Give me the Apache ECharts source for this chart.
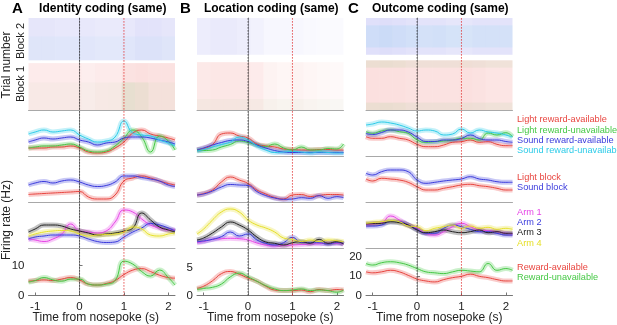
<!DOCTYPE html>
<html><head><meta charset="utf-8">
<script src="https://cdn.jsdelivr.net/npm/echarts@6/dist/echarts.min.js"></script>
<style>html,body{margin:0;padding:0;background:#fff}#c{width:617px;height:325px}</style>
</head><body><div id="c"></div>
<script>
// ---------- shared axes ----------
const time = [-1.15,-1,-0.8,-0.6,-0.4,-0.2,0,0.2,0.4,0.6,0.8,1,1.2,1.4,1.6,1.8,2,2.15];
const xTicks = [-1,0,1,2];
const eventTimes = [0, 1];           // nosepoke (black), outcome (red)
const rasterBinStarts = [-1.15,-0.85,-0.55,-0.25,0.05,0.35,0.65,0.95,1.25,1.55,1.85];
const rasterBinWidth = 0.3;

// ---------- Panel A: Identity coding ----------
const A1_lightAvail   = [8,8,8,9,9,10,8,4,3,4,8,14,23,26,22,20,18,16];
const A1_lightUnavail = [8,9,10,10,11,12,9,5,4,5,10,18,26,19,4,20,15,6];
const A1_soundAvail   = [14,16,18,17,18,19,16,14,11,13,14,18,19,19,18,16,14,12];
const A1_soundUnavail = [22,24,26,24,25,26,21,17,14,15,19,35,23,21,20,16,13,10];
const A2_light = [7.5,8,8.5,9,9.5,10,10.5,5,3,3,7,21,24,26,24,21,18.5,17];
const A2_sound = [17,19,20.5,19,21,22,20,17,15.5,16.5,20,26,26,24.5,23,21,17,15.5];
const A3_arm1 = [9,8,6.5,9,14,24,17,16,15,17,26,38,36,29,23,20,18,18];
const A3_arm2 = [9,11,12,13,13,13,12,9,6.5,5.5,6,11,16,20,24.5,23,20,17];
const A3_arm3 = [16,19,23,23,22,19,17,15,13,14,15,17,20,35,28,21,18,16];
const A3_arm4 = [12,14,16,17,17.5,17,14,12,13,13.5,14,16,21,19,13,12,14,15];
const A4_avail   = [4.8,5.0,5.2,5.0,5.5,6.0,5.2,3.8,3.5,4.0,5.0,7.0,8.5,9.0,8.0,6.8,6.0,5.8];
const A4_unavail = [4.5,5.0,6.0,5.2,4.8,5.5,5.5,3.8,3.5,3.8,5.0,11.5,10.5,8.0,6.5,8.5,6.0,3.5];
const A_rateTicks = [0,10];

// ---------- Panel B: Location coding ----------
const B1_lightAvail   = [6,7.5,11.5,22,23,20,18,12,10,9,7,6.5,6,6,6.5,6.5,6,6];
const B1_lightUnavail = [6,5.5,6,9,11.5,15,13.5,11,9.5,12,8,6,9,6,6,7.5,7,12];
const B1_soundAvail   = [6,8,11,13.5,15.5,16,14.5,11,8,5.5,4,3.5,3.5,3.5,3.5,3.5,3.5,3.5];
const B1_soundUnavail = [5,6.5,9,11.5,14,19,16,10,6,3.5,4,4.5,4,3,4,3.5,3,3];
const B2_light = [7,8.5,12,20,25,22,18.5,12,8,4.5,3,7,7.5,5.5,6.5,7.5,7.5,7];
const B2_sound = [7,8,11,15,17.5,17,16.5,10.5,6.5,4,2.7,3,4.3,3.7,6.3,3.7,5.3,4.3];
const B3_arm1 = [5.3,6.5,8.7,9.3,9.7,9.3,8,5,3,2,2.5,3,3.5,4,4.3,4.7,4.7,4];
const B3_arm2 = [6.3,7,8.7,11.3,16,12,14,8,4.7,3,5.3,10.7,5.3,5.3,5.3,4,5.3,4.7];
const B3_arm3 = [8,10,15,21,26,23,18,11,6,4.7,3,5.3,6.3,4.7,8.7,4.7,6.3,4];
const B3_arm4 = [14,19,28,36,39,36,28,23,20,16,10,8.5,6.5,8,6.5,8,7.3,6.3];
const B4_avail   = [1.3,1.7,2.7,4.0,4.4,3.9,3.2,2.6,1.7,1.0,0.9,0.9,1.0,0.7,1.1,0.9,1.1,1.0];
const B4_unavail = [1.1,1.3,1.5,2.1,3.4,4.1,3.4,2.6,1.8,1.2,0.9,1.0,1.2,0.9,1.0,0.9,0.6,1.0];
const B_rateTicks = [0,5];

// ---------- Panel C: Outcome coding ----------
const C1_lightAvail   = [19.3,17.7,17.7,19.3,17.7,16,11.7,9.3,9.3,11,13.7,14.3,16,13.7,14.3,11.7,10.3,10.3];
const C1_lightUnavail = [24.3,22.7,25,26,24.3,22.7,16,13.7,14.3,15,16,17.7,17.7,16,23,21,23.3,19.3];
const C1_soundAvail   = [22.5,21.5,23.5,26,26,24,19,14.5,14.5,16,16,17.5,21,17.5,16,16,14.5,13.7];
const C1_soundUnavail = [31,32,34,33,31,28,25,26,25,21,22,27,23,26,24,23,21,19];
const C2_light = [23,21,23.7,23,22,19.7,15.3,12,12,13.7,15.3,17,17.7,16.3,15.3,13.7,12,12];
const C2_sound = [28.7,27,30.3,32,32,30.3,22,18.7,19.7,21,22,23,25.3,23,22,20.3,19.7,19.7];
const C3_arm1 = [23,24,25,32,28,23,19.7,14.7,13,16.3,21.3,24.7,21.3,18,17.3,16.3,14.7,14];
const C3_arm2 = [22,22,23,26.3,26.3,23,18.7,14.7,14.7,19.7,23,21.3,18.7,16.3,16.3,14.7,13,13];
const C3_arm3 = [24,24.3,24.7,26.3,25.3,23,18,15.3,16.3,18,16.3,15.3,16.3,18,15.3,16.3,14.7,14.7];
const C3_arm4 = [24.7,25.5,26.3,27.3,26.3,22,21.3,17.3,19.7,21.3,23,19.7,22,19.7,20.7,18.7,19.7,18.7];
const C4_avail   = [12.2,11.7,12.2,13,12.2,10.4,8.5,7.5,7,8.2,9.2,9.9,11,9.9,9.2,8.2,7.5,7.5];
const C4_unavail = [16.5,15.7,16.9,17.4,16.9,15.7,13.9,12.2,11.7,11.3,12.2,13,12.6,12.2,16.5,13,13.9,13];
const C_rateTicks = [0,10,20];

// ---------- raster: spike density per time bin, per trial band ----------
const A_raster = [
  {trials:[54,100], c:'blue',  dens:[0.5,0.5,0.45,0.45,0.45,0.4,0.4,0.45,0.55,0.55,0.5]},
  {trials:[54,80],  c:'cyan',  dens:[0.15,0.15,0.15,0.15,0.12,0.12,0.12,0.15,0.15,0.15,0.15]},
  {trials:[0,51],   c:'red',   dens:[0.4,0.4,0.4,0.4,0.35,0.4,0.4,0.6,0.65,0.6,0.6]},
  {trials:[0,30],   c:'green', dens:[0.1,0.1,0.1,0.1,0.1,0.12,0.15,0.4,0.3,0.15,0.15]}
];
const B_raster = [
  {trials:[60,100], c:'blue',  dens:[0.35,0.4,0.4,0.35,0.25,0.15,0.15,0.15,0.12,0.1,0.1]},
  {trials:[0,52],   c:'red',   dens:[0.45,0.5,0.5,0.5,0.4,0.25,0.2,0.25,0.2,0.15,0.12]},
  {trials:[0,12],   c:'green', dens:[0.15,0.15,0.15,0.15,0.15,0.12,0.12,0.12,0.1,0.1,0.1]}
];
const C_raster = [
  {trials:[60,100], c:'blue',  dens:[0.6,0.65,0.6,0.55,0.55,0.55,0.5,0.5,0.55,0.55,0.55]},
  {trials:[68,92],  c:'cyan',  dens:[0.35,0.4,0.35,0.35,0.3,0.35,0.35,0.3,0.3,0.3,0.3]},
  {trials:[0,54],   c:'red',   dens:[0.65,0.65,0.65,0.6,0.6,0.6,0.6,0.65,0.6,0.55,0.55]},
  {trials:[0,8],    c:'green', dens:[0.3,0.35,0.3,0.25,0.25,0.25,0.25,0.25,0.25,0.25,0.25]},
  {trials:[46,54],  c:'green', dens:[0.3,0.35,0.3,0.25,0.25,0.25,0.25,0.25,0.25,0.25,0.25]}
];

// ---------- colours / labels ----------
const COL = {red:'#e8453f', green:'#45c845', blue:'#3b3bdc', cyan:'#2ccbe8', mag:'#e645e6', yel:'#e6e02a', blk:'#222222'};
const legendRows = [
  [['Light reward-available','red'],['Light reward-unavailable','green'],['Sound reward-available','blue'],['Sound reward-unavailable','cyan']],
  [['Light block','red'],['Sound block','blue']],
  [['Arm 1','mag'],['Arm 2','blue'],['Arm 3','blk'],['Arm 4','yel']],
  [['Reward-available','red'],['Reward-unavailable','green']]
];

const panels = [
  {left:28.5, title:'Identity coding (same)', letter:'A', letterX:12,
   rows:[[A1_lightAvail,A1_lightUnavail,A1_soundAvail,A1_soundUnavail],[A2_light,A2_sound],[A3_arm1,A3_arm2,A3_arm3,A3_arm4],[A4_avail,A4_unavail]],
   rateMax:15.9, rateTicks:A_rateTicks, raster:A_raster},
  {left:197, title:'Location coding (same)', letter:'B', letterX:180,
   rows:[[B1_lightAvail,B1_lightUnavail,B1_soundAvail,B1_soundUnavail],[B2_light,B2_sound],[B3_arm1,B3_arm2,B3_arm3,B3_arm4],[B4_avail,B4_unavail]],
   rateMax:8.7, rateTicks:B_rateTicks, raster:B_raster},
  {left:366, title:'Outcome coding (same)', letter:'C', letterX:348,
   rows:[[C1_lightAvail,C1_lightUnavail,C1_soundAvail,C1_soundUnavail],[C2_light,C2_sound],[C3_arm1,C3_arm2,C3_arm3,C3_arm4],[C4_avail,C4_unavail]],
   rateMax:24.5, rateTicks:C_rateTicks, raster:C_raster}
];

const W = 146.5, RAST_TOP = 18, RAST_H = 92, ROW_H = 46, BOTTOM = 295.5;
const XMIN = -1.15, XMAX = 2.15;
const FONT = '"Liberation Sans", Arial, Helvetica, sans-serif';
const grids = [], xAxes = [], yAxes = [], series = [], graphics = [];

function addGrid(left, top, height, xCfg, yCfg){
  const i = grids.length;
  grids.push({left:left, top:top, width:W, height:height});
  xAxes.push(Object.assign({type:'value', gridIndex:i, min:XMIN, max:XMAX, splitLine:{show:false},
    axisLabel:{show:false}, axisTick:{show:false}, axisLine:{show:false}}, xCfg||{}));
  yAxes.push(Object.assign({type:'value', gridIndex:i, splitLine:{show:false},
    axisLabel:{show:false}, axisTick:{show:false}, axisLine:{show:false}}, yCfg||{}));
  return i;
}
const sepLine = {show:true, onZero:false, lineStyle:{color:'#a8a8a8', width:1}};

panels.forEach(function(p){
  // raster
  const gi = addGrid(p.left, RAST_TOP, RAST_H, {axisLine:sepLine}, {min:0, max:100});
  p.raster.forEach(function(band){
    const data = band.dens.map(function(d, k){
      return [rasterBinStarts[k], rasterBinStarts[k] + rasterBinWidth, band.trials[0], band.trials[1], d];
    });
    const color = COL[band.c];
    series.push({type:'custom', xAxisIndex:gi, yAxisIndex:gi, z:1, silent:true, data:data,
      encode:{x:[0,1], y:[2,3]},
      renderItem:function(params, api){
        const a = api.coord([api.value(0), api.value(3)]);
        const b = api.coord([api.value(1), api.value(2)]);
        return {type:'rect', shape:{x:a[0], y:a[1], width:b[0]-a[0], height:b[1]-a[1]},
          style:{fill:color, opacity:api.value(4)*0.26}};
      }});
  });
  // four line rows
  p.rows.forEach(function(row, r){
    const isLast = r === 3;
    const top = 110 + r*ROW_H;
    const h = isLast ? (BOTTOM - top) : ROW_H;
    const xCfg = isLast ? {axisLine:{show:true, onZero:false, lineStyle:{color:'#777'}},
        axisTick:{show:true, inside:true, length:3, customValues:xTicks, lineStyle:{color:'#777'}},
        axisLabel:{show:true, interval:0, customValues:xTicks, fontSize:11.5, color:'#222', fontFamily:FONT, margin:5}}
      : {axisLine:sepLine};
    const yCfg = isLast ? {min:0, max:p.rateMax,
        axisTick:{show:true, inside:true, length:3, customValues:p.rateTicks, lineStyle:{color:'#777'}}}
      : {min:0, max:46};
    const gi2 = addGrid(p.left, top, h, xCfg, yCfg);
    if (isLast) p.rateGrid = gi2;
    row.forEach(function(vals, s){
      const color = COL[legendRows[r][s][1]];
      const data = time.map(function(t, k){ return [t, vals[k]]; });
      series.push({type:'line', xAxisIndex:gi2, yAxisIndex:gi2, data:data, smooth:0.5, showSymbol:false, silent:true, z:2,
        lineStyle:{color:color, width:5, opacity:0.28}});
      series.push({type:'line', xAxisIndex:gi2, yAxisIndex:gi2, data:data, smooth:0.5, showSymbol:false, silent:true, z:3,
        lineStyle:{color:color, width:1}});
    });
  });
  // full-height overlay: left axis + event lines
  const go = addGrid(p.left, RAST_TOP, BOTTOM - RAST_TOP, {},
    {min:0, max:1, axisLine:{show:true, lineStyle:{color:'#a0a0a0', width:1}}});
  eventTimes.forEach(function(t, k){
    series.push({type:'line', xAxisIndex:go, yAxisIndex:go, data:[[t,0],[t,1]], showSymbol:false, silent:true, z:4,
      lineStyle:{color: k === 0 ? '#333333' : '#e02828', width:1, type:[1.2,1.8]}});
  });
  // texts
  graphics.push({type:'text', left:p.letterX, top:1, style:{text:p.letter, font:'bold 15px '+FONT, fill:'#000'}});
  graphics.push({type:'text', x:p.left + W/2 + 1, y:9, style:{text:p.title, font:'bold 12px '+FONT, fill:'#000', align:'center', verticalAlign:'middle'}});
  graphics.push({type:'text', x:p.left + W/2 - (p.letter==='A'?6:0), y:318, style:{text:'Time from nosepoke (s)', font:'12px '+FONT, fill:'#222', align:'center', verticalAlign:'middle'}});
});

// left labels
function vtext(text, x, y, size){
  graphics.push({type:'text', x:x, y:y, rotation:Math.PI/2,
    style:{text:text, font:size+'px '+FONT, fill:'#222', align:'center', verticalAlign:'middle'}});
}
vtext('Trial number', 7, 65, 12);
vtext('Block 2', 21, 41, 11);
vtext('Block 1', 21, 84, 11);
vtext('Firing rate (Hz)', 7, 220, 12);

// legends
const legendTops = [119.7, 177.3, 212.3, 267.3];
legendRows.forEach(function(row, r){
  row.forEach(function(item, s){
    graphics.push({type:'text', x:517, y:legendTops[r] + s*10.3,
      style:{text:item[0], font:'9.2px '+FONT, fill:COL[item[1]], verticalAlign:'middle'}});
  });
});

const chart = echarts.init(document.getElementById('c'), null, {renderer:'canvas'});
chart.setOption({animation:false, backgroundColor:'#fff', grid:grids, xAxis:xAxes, yAxis:yAxes, series:series});

// firing-rate tick labels, placed through each row-4 axis scale (drawn on top)
panels.forEach(function(p){
  p.rateTicks.forEach(function(v){
    const pt = chart.convertToPixel({xAxisIndex:p.rateGrid, yAxisIndex:p.rateGrid}, [XMIN, v]);
    graphics.push({type:'text', z:100, zlevel:0, x:pt[0] - 4, y:pt[1],
      style:{text:String(v), font:'11.5px '+FONT, fill:'#222', align:'right', verticalAlign:'middle'}});
  });
});
chart.setOption({graphic:graphics});
</script>
</body></html>
